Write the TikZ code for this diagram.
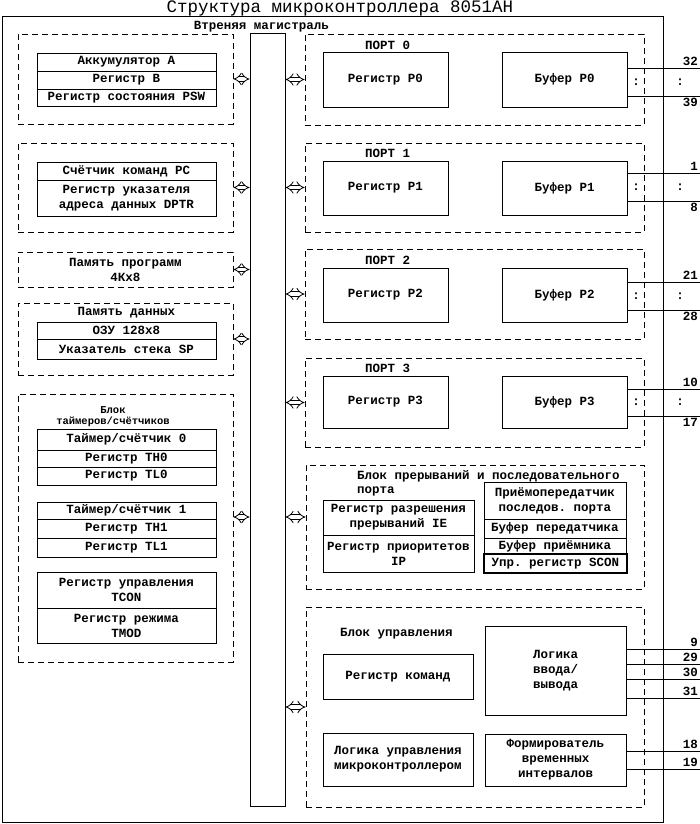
\documentclass[tikz,border=0pt]{standalone}
\usepackage{fontspec}
\setmonofont{Liberation Mono}
\usepackage{tikz}
\usetikzlibrary{arrows.meta, positioning}

\newcommand{\regfont}{\ttfamily\bfseries\fontsize{12.5}{15}\selectfont}

\begin{document}
\begin{tikzpicture}[x=1pt, y=-1pt,
        blk/.style={draw, dash pattern=on 6pt off 4pt, line width=0.8pt, inner sep=0pt, align=center, font=\regfont},
        reg/.style={draw, line width=0.8pt, inner sep=0pt, align=center, font=\regfont},
        lcol/.style={reg, minimum width=179pt},
        rport/.style={reg, minimum width=125pt},
        lbl/.style={inner sep=0pt, font=\regfont},
        busarrow/.style={double, double distance=3.5pt, line width=0.8pt, {Implies}-{Implies}},
        pin/.style={line width=0.8pt},
        pinno/.style={inner sep=2pt, font=\regfont}]
        \useasboundingbox (0, 0) rectangle (700, 824);

        % chip and internal bus
        \node[draw, line width=1pt, minimum width=661pt, minimum height=805pt] (chip) at (332.5, 419.5) {};
        \node[anchor=base, inner sep=0pt, font=\ttfamily\fontsize{17.5}{20}\selectfont] (title) at (340, 13) {Структура микроконтроллера 8051AH};
        \node[draw, line width=0.8pt, minimum width=35pt, minimum height=773pt] (bus) at (267.5, 419.5) {};
        \node[lbl, anchor=base] (buslbl) at (261.5, 30) {Втреняя магистраль};

        % left column
        \node[blk, minimum width=215pt, minimum height=90pt] (alu) at (125.5, 79) {};
        \node[lcol, minimum height=18pt] (acc) at (126.5, 62) {Аккумулятор А};
        \node[lcol, minimum height=18pt] (regb) at (126.5, 80) {Регистр В};
        \node[lcol, minimum height=17pt] (psw) at (126.5, 97.5) {Регистр состояния PSW};

        \node[blk, minimum width=215pt, minimum height=89pt] (pcblk) at (125.5, 187.5) {};
        \node[lcol, minimum height=18pt] (pc) at (126.5, 171) {Счётчик команд PC};
        \node[lcol, minimum height=36pt] (dptr) at (126.5, 198) {Регистр указателя\\адреса данных DPTR};

        \node[blk, minimum width=215pt, minimum height=35pt] (rom) at (125.5, 269.5) {Память программ\\4Кх8};

        \node[blk, minimum width=215pt, minimum height=72pt] (ram) at (125.5, 339) {};
        \node[lbl] (ramlbl) at (126.5, 313) {Память данных};
        \node[lcol, minimum height=17pt] (ozu) at (126.5, 330.5) {ОЗУ 128х8};
        \node[lcol, minimum height=20pt] (sp) at (126.5, 349) {Указатель стека SP};

        \node[blk, minimum width=215pt, minimum height=268pt] (tmr) at (125.5, 528) {};
        \node[lbl, align=center, font=\ttfamily\bfseries\fontsize{10.5}{11}\selectfont] (tmrlbl) at (113, 417) {Блок\\таймеров/счётчиков};
        \node[lcol, minimum height=21pt] (t0) at (126.5, 439.5) {Таймер/счётчик 0};
        \node[lcol, minimum height=17pt] (th0) at (126.5, 458.5) {Регистр TH0};
        \node[lcol, minimum height=18pt] (tl0) at (126.5, 476) {Регистр TL0};
        \node[lcol, minimum height=17pt] (t1) at (126.5, 510.5) {Таймер/счётчик 1};
        \node[lcol, minimum height=19pt] (th1) at (126.5, 528.5) {Регистр TH1};
        \node[lcol, minimum height=19pt] (tl1) at (126.5, 547.5) {Регистр TL1};
        \node[lcol, minimum height=36pt] (tcon) at (126.5, 590) {Регистр управления\\TCON};
        \node[lcol, minimum height=35pt] (tmod) at (126.5, 625.5) {Регистр режима\\TMOD};

        % ports
        \node[blk, minimum width=339pt, minimum height=91pt] (port0) at (474.5, 79.5) {};
        \node[lbl, anchor=west] (port0lbl) at (365, 45) {ПОРТ 0};
        \node[rport, minimum height=55pt] (p0reg) at (385.5, 79.5) {Регистр P0};
        \node[rport, minimum height=55pt] (p0buf) at (564.5, 79.5) {Буфер P0};

        \node[blk, minimum width=339pt, minimum height=89pt] (port1) at (474.5, 187.5) {};
        \node[lbl, anchor=west] (port1lbl) at (365, 153) {ПОРТ 1};
        \node[rport, minimum height=54pt] (p1reg) at (385.5, 188) {Регистр P1};
        \node[rport, minimum height=54pt] (p1buf) at (564.5, 188) {Буфер P1};

        \node[blk, minimum width=339pt, minimum height=90pt] (port2) at (474.5, 294) {};
        \node[lbl, anchor=west] (port2lbl) at (365, 260) {ПОРТ 2};
        \node[rport, minimum height=54pt] (p2reg) at (385.5, 295) {Регистр P2};
        \node[rport, minimum height=54pt] (p2buf) at (564.5, 295) {Буфер P2};

        \node[blk, minimum width=339pt, minimum height=89pt] (port3) at (474.5, 402.5) {};
        \node[lbl, anchor=west] (port3lbl) at (365, 368) {ПОРТ 3};
        \node[rport, minimum height=52pt] (p3reg) at (385.5, 402) {Регистр P3};
        \node[rport, minimum height=52pt] (p3buf) at (564.5, 402) {Буфер P3};

        % interrupts and serial port
        \node[blk, minimum width=338pt, minimum height=124pt] (intr) at (475, 527) {};
        \node[lbl, anchor=base west] (intrlbl) at (357, 479) {Блок прерываний и последовательного};
        \node[lbl, anchor=base west] (intrlbl2) at (357, 493) {порта};
        \node[reg, minimum width=151pt, minimum height=35pt] (ie) at (398.5, 517.5) {Регистр разрешения\\прерываний IE};
        \node[reg, minimum width=151pt, minimum height=37pt] (ip) at (398.5, 553.5) {Регистр приоритетов\\IP};
        \node[reg, minimum width=142pt, minimum height=37pt] (uart) at (555, 500.5) {Приёмопередатчик\\последов. порта};
        \node[reg, minimum width=142pt, minimum height=19pt] (txbuf) at (555, 528.5) {Буфер передатчика};
        \node[reg, minimum width=142pt, minimum height=16pt] (rxbuf) at (555, 546) {Буфер приёмника};
        \node[reg, line width=1.6pt, minimum width=143pt, minimum height=19pt] (scon) at (555.5, 563.5) {Упр. регистр SCON};

        % control unit
        \node[blk, minimum width=338pt, minimum height=200pt] (ctrl) at (475, 707) {};
        \node[lbl, anchor=west] (ctrllbl) at (340, 634) {Блок управления};
        \node[reg, minimum width=150pt, minimum height=45pt] (ir) at (398, 676.5) {Регистр команд};
        \node[reg, minimum width=141pt, minimum height=89pt] (io) at (555.5, 670.5) {Логика\\ввода/\\вывода};
        \node[reg, minimum width=150pt, minimum height=53pt] (cu) at (398, 759.5) {Логика управления\\микроконтроллером};
        \node[reg, minimum width=141pt, minimum height=52pt] (clk) at (555.5, 760) {Формирователь\\временных\\интервалов};

        % links to the bus
        \coordinate (tmrio) at ([yshift=11pt]tmr.east);
        \coordinate (intrio) at ([yshift=10pt]intr.west);
        \draw[busarrow] (alu.east) -- (bus.west |- alu.east);
        \draw[busarrow] (pcblk.east) -- (bus.west |- pcblk.east);
        \draw[busarrow] (rom.east) -- (bus.west |- rom.east);
        \draw[busarrow] (ram.east) -- (bus.west |- ram.east);
        \draw[busarrow] (tmrio) -- (bus.west |- tmrio);
        \draw[busarrow] (bus.east |- port0.west) -- (port0.west);
        \draw[busarrow] (bus.east |- port1.west) -- (port1.west);
        \draw[busarrow] (bus.east |- port2.west) -- (port2.west);
        \draw[busarrow] (bus.east |- port3.west) -- (port3.west);
        \draw[busarrow] (bus.east |- intrio) -- (intrio);
        \draw[busarrow] (bus.east |- ctrl.west) -- (ctrl.west);

        % pins
        \coordinate (pin32) at (700, 68);
        \coordinate (pin39) at (700, 96);
        \coordinate (pin1) at (700, 173);
        \coordinate (pin8) at (700, 201);
        \coordinate (pin21) at (700, 282);
        \coordinate (pin28) at (700, 310);
        \coordinate (pin10) at (700, 389);
        \coordinate (pin17) at (700, 416);
        \coordinate (pin9) at (700, 649);
        \coordinate (pin29) at (700, 664);
        \coordinate (pin30) at (700, 679);
        \coordinate (pin31) at (700, 698);
        \coordinate (pin18) at (700, 751);
        \coordinate (pin19) at (700, 769);

        \draw[pin] (p0buf.east |- pin32) -- (pin32)
            (p0buf.east |- pin39) -- (pin39)
            (p1buf.east |- pin1) -- (pin1)
            (p1buf.east |- pin8) -- (pin8)
            (p2buf.east |- pin21) -- (pin21)
            (p2buf.east |- pin28) -- (pin28)
            (p3buf.east |- pin10) -- (pin10)
            (p3buf.east |- pin17) -- (pin17)
            (io.east |- pin9) -- (pin9)
            (io.east |- pin29) -- (pin29)
            (io.east |- pin30) -- (pin30)
            (io.east |- pin31) -- (pin31)
            (clk.east |- pin18) -- (pin18)
            (clk.east |- pin19) -- (pin19);

        \node[pinno, anchor=south east] (n32) at (pin32) {32};
        \node[pinno, anchor=north east] (n39) at (pin39) {39};
        \node[pinno, anchor=south east] (n1) at (pin1) {1};
        \node[pinno, anchor=north east] (n8) at (pin8) {8};
        \node[pinno, anchor=south east] (n21) at (pin21) {21};
        \node[pinno, anchor=north east] (n28) at (pin28) {28};
        \node[pinno, anchor=south east] (n10) at (pin10) {10};
        \node[pinno, anchor=north east] (n17) at (pin17) {17};
        \node[pinno, anchor=south east] (n9) at (pin9) {9};
        \node[pinno, anchor=south east] (n29) at (pin29) {29};
        \node[pinno, anchor=south east] (n30) at (pin30) {30};
        \node[pinno, anchor=south east] (n31) at (pin31) {31};
        \node[pinno, anchor=south east] (n18) at (pin18) {18};
        \node[pinno, anchor=south east] (n19) at (pin19) {19};

        % dots between first and last pin of each port
        \node[lbl] (d0a) at (636, 82) {:};
        \node[lbl] (d0b) at (680, 82) {:};
        \node[lbl] (d1a) at (636, 187) {:};
        \node[lbl] (d1b) at (680, 187) {:};
        \node[lbl] (d2a) at (636, 296) {:};
        \node[lbl] (d2b) at (680, 296) {:};
        \node[lbl] (d3a) at (636, 402) {:};
        \node[lbl] (d3b) at (680, 402) {:};
    \end{tikzpicture}
\end{document}
